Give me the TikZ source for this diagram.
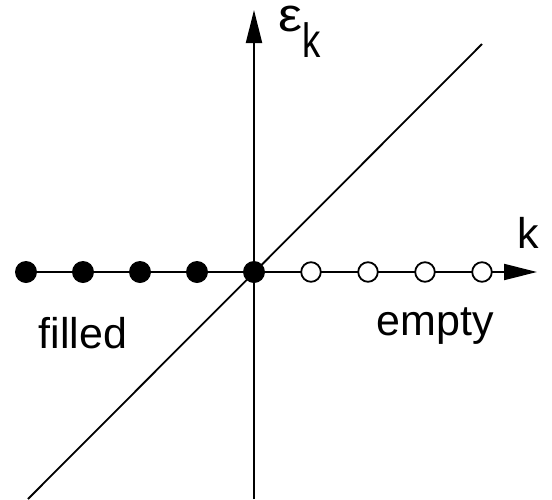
\documentclass[tikz,border=0pt]{standalone}
\usepackage{fontspec}
\setmainfont{Liberation Sans}
\usetikzlibrary{arrows.meta}

\tikzset{
  filleddot/.style={circle, fill=black, inner sep=0pt, minimum size=11pt},
  emptydot/.style={circle, draw=black, fill=white, line width=0.9pt, inner sep=0pt, minimum size=9.8pt},
  axis/.style={line width=1pt, -{Triangle[length=16.5pt,width=8pt]}},
  lbl/.style={inner sep=0pt, font=\fontsize{21.5}{24}\selectfont}
}

\begin{document}
\begin{tikzpicture}[x=0.5pt, y=-0.5pt]
    \useasboundingbox (0,0) rectangle (552,499);

    \coordinate (O) at (254,272);
    \coordinate (kend) at (537,272);
    \coordinate (ebot) at (254,499);
    \coordinate (etop) at (254,10);
    \coordinate (dlow) at (28,499);
    \coordinate (dhigh) at (482,44);

    % diagonal and axes
    \draw[line width=0.9pt] (dlow) -- (dhigh);
    \draw[axis] (ebot) -- (etop);
    \draw[axis] (27,272) -- (kend);

    % occupied and empty states
    \foreach \i/\x in {1/26, 2/83, 3/140, 4/197, 5/254}
        \node[filleddot] (f\i) at (\x,272) {};
    \foreach \i/\x in {1/311, 2/368, 3/425, 4/482}
        \node[emptydot] (e\i) at (\x,272) {};

    \node[lbl, anchor=base west] (klabel) at (517,248) {k};
    \node[lbl, anchor=base west, text height=11pt] (eps) at (278,31) {\scalebox{1.25}[1.1]{ε}};
    \node[lbl, anchor=base west] (epssub) at (302,57) {\scalebox{0.85}[1.12]{k}};

    \node[lbl, anchor=base] (filled) at (83,348) {filled};
    \node[lbl, anchor=base] (empty) at (435,335) {empty};
\end{tikzpicture}
\end{document}
